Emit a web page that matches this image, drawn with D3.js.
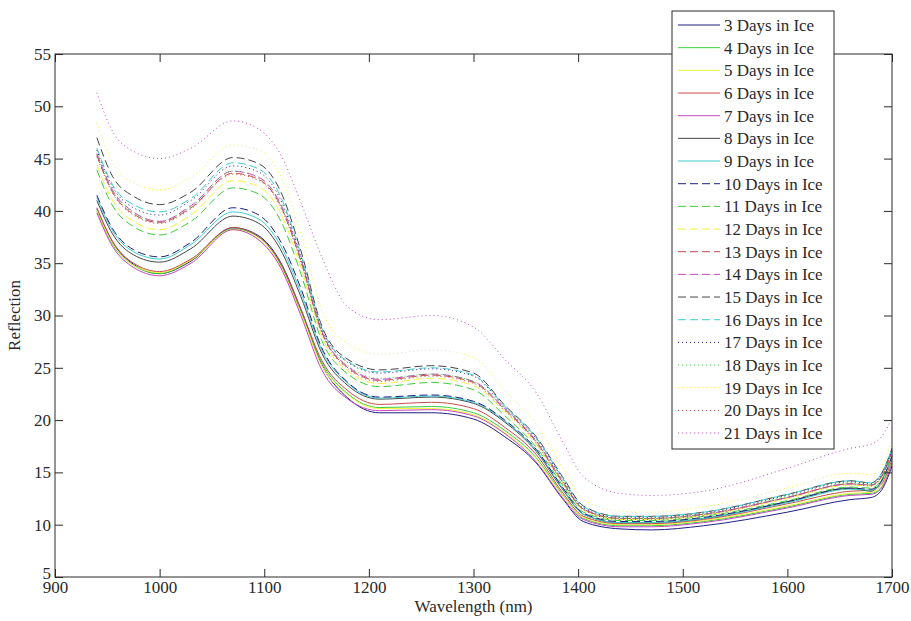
<!DOCTYPE html>
<html>
<head>
    <meta charset="utf-8">
    <title>Reflection vs Wavelength</title>
    <script type="text/javascript" src="https://d3js.org/d3.v7.min.js"></script>
    <style>
        body { margin: 0; background: #fff; }
        svg { display: block; }
        text { font-family: "Liberation Serif", "Times New Roman", "DejaVu Serif", serif; fill: #2a2a2a; }
    </style>
</head>
<body>
<svg></svg>
<script type="text/javascript">
    // wavelengths (nm) at which the curves were read
    var wavelength = [940, 955, 975, 1000, 1030, 1070, 1095, 1115, 1135, 1155, 1180, 1210, 1260, 1300, 1330, 1360, 1385, 1405, 1440, 1470, 1520, 1600, 1660, 1680, 1690, 1700];

    // reflection for each number of days in ice
    var days3  = [40.2, 37.0, 34.9, 34.0, 35.2, 38.4, 37.6, 35.2, 30.6, 25.3, 22.1, 20.7, 20.7, 20.1, 18.4, 15.9, 12.5, 10.3, 9.6, 9.5, 9.9, 11.2, 12.4, 12.6, 13.3, 15.6];
    var days4  = [40.0, 36.8, 34.8, 34.0, 35.3, 38.3, 37.5, 35.0, 30.4, 25.5, 22.5, 21.2, 21.3, 20.7, 19.0, 16.4, 12.9, 10.6, 9.9, 9.9, 10.3, 11.7, 12.9, 13.0, 13.6, 16.0];
    var days5  = [40.1, 36.9, 34.8, 34.1, 35.3, 38.2, 37.3, 34.8, 30.2, 25.2, 22.4, 21.1, 21.1, 20.5, 18.8, 16.2, 12.8, 10.7, 10.0, 10.0, 10.4, 11.8, 13.0, 13.1, 13.7, 16.1];
    var days6  = [40.3, 37.1, 35.0, 34.2, 35.4, 38.4, 37.5, 35.1, 30.6, 25.7, 22.8, 21.5, 21.7, 21.1, 19.3, 16.7, 13.1, 10.8, 10.1, 10.1, 10.5, 12.0, 13.2, 13.3, 13.9, 16.3];
    var days7  = [39.8, 36.6, 34.6, 33.8, 35.0, 38.2, 37.2, 34.7, 30.0, 24.8, 22.0, 20.9, 21.0, 20.4, 18.7, 16.0, 12.6, 10.5, 9.8, 9.8, 10.2, 11.6, 12.8, 12.9, 13.5, 15.9];
    var days8  = [41.0, 37.8, 35.8, 35.1, 36.4, 39.5, 38.8, 36.4, 31.8, 26.4, 23.3, 22.0, 22.2, 21.6, 19.8, 17.0, 13.4, 11.0, 10.2, 10.2, 10.6, 12.2, 13.5, 13.2, 14.2, 16.6];
    var days9  = [41.3, 38.1, 36.1, 35.4, 36.8, 39.9, 39.2, 36.8, 32.2, 26.7, 23.5, 22.1, 22.3, 21.7, 19.9, 17.1, 13.5, 11.0, 10.2, 10.2, 10.6, 12.1, 13.4, 13.3, 14.1, 16.5];
    var days10 = [41.5, 38.3, 36.3, 35.6, 37.0, 40.3, 39.6, 37.2, 32.6, 26.9, 23.6, 22.2, 22.4, 21.8, 20.0, 17.2, 13.6, 11.1, 10.3, 10.3, 10.7, 12.2, 13.5, 13.4, 14.2, 16.6];
    var days11 = [43.9, 40.5, 38.5, 37.7, 39.0, 42.2, 41.6, 39.2, 34.0, 27.6, 24.4, 23.2, 23.6, 22.9, 20.4, 17.4, 13.8, 11.2, 10.4, 10.4, 10.8, 12.3, 13.6, 13.5, 14.3, 16.7];
    var days12 = [44.4, 41.0, 39.0, 38.2, 39.6, 42.9, 42.3, 39.9, 34.6, 28.0, 24.7, 23.5, 24.0, 23.3, 20.8, 17.7, 14.0, 11.4, 10.5, 10.5, 10.9, 12.5, 13.8, 13.7, 14.5, 16.9];
    var days13 = [45.3, 41.8, 39.7, 38.9, 40.3, 43.6, 43.0, 40.6, 35.2, 28.4, 25.0, 23.8, 24.3, 23.6, 21.0, 17.9, 14.1, 11.5, 10.6, 10.6, 11.0, 12.6, 13.9, 13.8, 14.6, 17.0];
    var days14 = [45.5, 42.0, 39.9, 39.0, 40.5, 43.8, 43.2, 40.8, 35.4, 28.5, 25.1, 23.9, 24.4, 23.7, 21.1, 18.0, 14.2, 11.5, 10.6, 10.6, 11.0, 12.6, 13.9, 13.8, 14.6, 17.0];
    var days15 = [47.0, 43.3, 41.4, 40.6, 41.8, 45.1, 44.5, 42.0, 36.2, 29.0, 25.8, 24.8, 25.2, 24.5, 21.4, 18.4, 14.6, 11.8, 10.8, 10.8, 11.2, 12.9, 14.2, 14.0, 14.9, 17.3];
    var days16 = [46.0, 42.5, 40.6, 39.9, 41.2, 44.6, 44.0, 41.5, 35.8, 28.8, 25.6, 24.6, 25.0, 24.3, 21.3, 18.3, 14.5, 11.7, 10.8, 10.8, 11.2, 12.9, 14.2, 14.0, 14.9, 17.3];
    var days17 = [45.8, 42.3, 40.3, 39.6, 41.0, 44.3, 43.7, 41.2, 35.6, 28.7, 25.5, 24.5, 24.9, 24.2, 21.2, 18.2, 14.4, 11.6, 10.7, 10.7, 11.1, 12.8, 14.1, 13.9, 14.8, 17.2];
    var days18 = [45.4, 41.9, 39.8, 39.0, 40.4, 43.8, 43.1, 40.7, 35.3, 28.5, 25.2, 24.0, 24.4, 23.7, 21.1, 18.0, 14.2, 11.5, 10.6, 10.6, 11.0, 12.7, 14.0, 13.8, 14.7, 17.1];
    var days19 = [48.4, 44.6, 42.7, 42.0, 43.2, 46.3, 45.8, 43.5, 37.8, 30.5, 27.3, 26.3, 26.7, 26.0, 22.8, 19.6, 15.5, 12.4, 11.3, 11.2, 11.7, 13.5, 14.9, 14.8, 15.6, 18.0];
    var days20 = [45.2, 41.7, 39.6, 38.8, 40.2, 43.5, 42.9, 40.5, 35.1, 28.3, 24.9, 23.7, 24.2, 23.5, 20.9, 17.8, 14.0, 11.4, 10.5, 10.5, 10.9, 12.6, 13.9, 13.7, 14.6, 17.0];
    var days21 = [51.3, 47.6, 45.7, 45.0, 46.0, 48.6, 47.8, 45.5, 40.8, 35.6, 30.8, 29.6, 30.0, 28.9, 25.8, 22.6, 18.0, 14.6, 13.0, 12.8, 13.2, 15.4, 17.3, 17.7, 18.4, 20.2];

    var seriesNames = ["3 Days in Ice", "4 Days in Ice", "5 Days in Ice", "6 Days in Ice", "7 Days in Ice",
        "8 Days in Ice", "9 Days in Ice", "10 Days in Ice", "11 Days in Ice", "12 Days in Ice", "13 Days in Ice",
        "14 Days in Ice", "15 Days in Ice", "16 Days in Ice", "17 Days in Ice", "18 Days in Ice", "19 Days in Ice",
        "20 Days in Ice", "21 Days in Ice"];
    var seriesValues = [days3, days4, days5, days6, days7, days8, days9, days10, days11, days12, days13,
        days14, days15, days16, days17, days18, days19, days20, days21];

    var xTicks = [900, 1000, 1100, 1200, 1300, 1400, 1500, 1600, 1700];
    var yTicks = [5, 10, 15, 20, 25, 30, 35, 40, 45, 50, 55];

    // matlab style colour order and line styles (cycle of 7)
    var colorOrder = ["#1f1f86", "#3ccc3c", "#f2f23a", "#c84a4a", "#c348c3", "#454545", "#3ccccc"];
    var dashOrder = ["none", "8,4", "1,3"];

    var w = 911;
    var h = 621;
    // plot area edges (note: "top" is reserved in browsers)
    var pLeft = 55, pRight = 892, pTop = 54, pBottom = 577;
    var serif = "'Liberation Serif', 'Times New Roman', 'DejaVu Serif', serif";

    var svg = d3.select("svg")
        .attr("width", w)
        .attr("height", h);

    var x = d3.scaleLinear().domain([900, 1700]).range([pLeft, pRight]);
    var y = d3.scaleLinear().domain([5, 55]).range([pBottom, pTop]);

    var line = d3.line()
        .x(function(d) { return x(d[0]); })
        .y(function(d) { return y(d[1]); })
        .curve(d3.curveMonotoneX);

    // curves
    var curves = svg.append("g");
    seriesValues.forEach(function(vals, i) {
        var pts = wavelength.map(function(wl, k) { return [wl, vals[k]]; });
        curves.append("path")
            .attr("d", line(pts))
            .attr("fill", "none")
            .attr("stroke", colorOrder[i % 7])
            .attr("stroke-width", 1)
            .attr("stroke-dasharray", dashOrder[Math.floor(i / 7)]);
    });

    // box and inward ticks on all four sides
    var tickLen = 8;
    svg.append("rect")
        .attr("x", pLeft).attr("y", pTop)
        .attr("width", pRight - pLeft).attr("height", pBottom - pTop)
        .attr("fill", "none").attr("stroke", "#2a2a2a").attr("stroke-width", 1);

    var fmt = d3.format("d");
    svg.append("g").attr("transform", "translate(0," + pBottom + ")")
        .call(d3.axisBottom(x).tickValues(xTicks).tickFormat(fmt).tickSizeInner(-tickLen).tickSizeOuter(0).tickPadding(4))
        .call(function(g) { g.select(".domain").remove(); });
    svg.append("g").attr("transform", "translate(0," + pTop + ")")
        .call(d3.axisTop(x).tickValues(xTicks).tickSizeInner(-tickLen).tickSizeOuter(0).tickFormat(""))
        .call(function(g) { g.select(".domain").remove(); });
    var yAxisG = svg.append("g").attr("transform", "translate(" + pLeft + ",0)")
        .call(d3.axisLeft(y).tickValues(yTicks).tickFormat(fmt).tickSizeInner(-tickLen).tickSizeOuter(0).tickPadding(4))
        .call(function(g) { g.select(".domain").remove(); });
    svg.append("g").attr("transform", "translate(" + pRight + ",0)")
        .call(d3.axisRight(y).tickValues(yTicks).tickSizeInner(-tickLen).tickSizeOuter(0).tickFormat(""))
        .call(function(g) { g.select(".domain").remove(); });

    svg.selectAll(".tick line").attr("stroke", "#2a2a2a");
    svg.selectAll(".tick text")
        .attr("font-size", 17)
        .style("font-family", serif)
        .attr("fill", "#2a2a2a");

    // the lowest y label sits just above the 900 label, as in the original
    yAxisG.selectAll(".tick text")
        .filter(function(d) { return d === 5; })
        .attr("dy", "0.1em");

    // axis labels
    svg.append("text")
        .attr("x", (pLeft + pRight) / 2).attr("y", 612)
        .attr("text-anchor", "middle").attr("font-size", 17)
        .style("font-family", serif)
        .text("Wavelength (nm)");
    svg.append("text")
        .attr("transform", "translate(20," + (pTop + pBottom) / 2 + ") rotate(-90)")
        .attr("text-anchor", "middle").attr("font-size", 17)
        .style("font-family", serif)
        .text("Reflection");

    // legend
    var lgX = 672, lgY = 11, lgW = 162, lgH = 438, rowH = 22.67;
    var legend = svg.append("g");
    legend.append("rect")
        .attr("x", lgX).attr("y", lgY).attr("width", lgW).attr("height", lgH)
        .attr("fill", "#fff").attr("stroke", "#2a2a2a").attr("stroke-width", 1);
    seriesNames.forEach(function(name, i) {
        var cy = 25 + i * rowH;
        legend.append("line")
            .attr("x1", 678).attr("x2", 720).attr("y1", cy).attr("y2", cy)
            .attr("stroke", colorOrder[i % 7])
            .attr("stroke-width", 1)
            .attr("stroke-dasharray", dashOrder[Math.floor(i / 7)]);
        legend.append("text")
            .attr("x", 724).attr("y", cy).attr("dy", "0.35em")
            .attr("font-size", 17)
            .style("font-family", serif)
            .text(name);
    });
</script>
</body>
</html>
